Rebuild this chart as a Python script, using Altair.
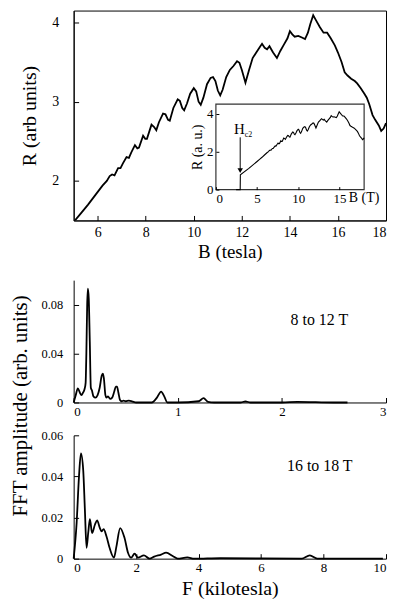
import altair as alt
import pandas as pd

# ---------------- data ----------------
# main panel: R (arb units) vs B (tesla)
main_B = [5.0, 5.3, 5.6, 5.9, 6.2, 6.38, 6.5, 6.6, 6.7, 6.85, 6.95, 7.05, 7.2, 7.3, 7.4,
          7.55, 7.65, 7.72, 7.89, 7.98, 8.05, 8.24, 8.35, 8.44, 8.55, 8.72, 8.82, 8.93,
          9.0, 9.15, 9.33, 9.42, 9.52, 9.6, 9.72, 9.85, 10.0, 10.1, 10.2, 10.29, 10.4,
          10.55, 10.7, 10.8, 10.9, 11.0, 11.1, 11.2, 11.35, 11.5, 11.65, 11.8, 11.9,
          12.0, 12.15, 12.3, 12.45, 12.6, 12.75, 12.84, 12.95, 13.05, 13.15, 13.3, 13.46,
          13.6, 13.75, 13.9, 14.0, 14.1, 14.2, 14.35, 14.5, 14.63, 14.75, 14.85, 14.97,
          15.1, 15.25, 15.4, 15.55, 15.7, 15.87, 16.0, 16.15, 16.28, 16.4, 16.55, 16.7,
          16.8, 16.95, 17.1, 17.2, 17.3, 17.44, 17.55, 17.7, 17.8, 17.9, 18.0]
main_R = [1.48, 1.59, 1.70, 1.82, 1.94, 2.00, 2.06, 2.08, 2.07, 2.16, 2.16, 2.22, 2.30, 2.29, 2.36,
          2.45, 2.41, 2.42, 2.57, 2.53, 2.53, 2.71, 2.68, 2.64, 2.74, 2.85, 2.84, 2.77,
          2.76, 2.92, 3.03, 3.01, 2.92, 2.89, 2.98, 3.10, 3.17, 3.13, 3.00, 2.96, 3.05,
          3.22, 3.30, 3.31, 3.26, 3.14, 3.08, 3.15, 3.31, 3.40, 3.45, 3.51, 3.49,
          3.40, 3.24, 3.40, 3.55, 3.62, 3.69, 3.73, 3.68, 3.66, 3.70, 3.62, 3.55,
          3.64, 3.72, 3.80, 3.89, 3.85, 3.82, 3.83, 3.81, 3.79, 3.87, 3.98, 4.09,
          4.02, 3.94, 3.87, 3.87, 3.80, 3.71, 3.62, 3.50, 3.37, 3.33, 3.29, 3.26,
          3.23, 3.17, 3.10, 3.05, 2.97, 2.83, 2.77, 2.70, 2.63, 2.66, 2.73]

# inset: low-field part (superconducting below Hc2), then the same curve as above
low_B = [2.45, 2.95, 2.97, 4.0]
low_R = [0.0, 0.0, 0.78, 1.12]

# FFT 8 to 12 T
fft1_F = [0.0, 0.02, 0.04, 0.06, 0.075, 0.09, 0.105, 0.115, 0.122, 0.13, 0.137, 0.145, 0.155,
          0.165, 0.175, 0.19, 0.21, 0.23, 0.25, 0.27, 0.28, 0.29, 0.305, 0.315, 0.33, 0.35,
          0.37, 0.39, 0.405, 0.416, 0.43, 0.445, 0.46, 0.48, 0.5, 0.53, 0.56, 0.6, 0.75,
          0.8, 0.84, 0.87, 0.9, 1.0, 1.2, 1.248, 1.29, 1.35, 1.6, 1.65, 1.7, 2.0, 2.15, 2.5, 2.63]
fft1_A = [0.0, 0.006, 0.0115, 0.008, 0.006, 0.008, 0.011, 0.016, 0.04, 0.08, 0.093, 0.085, 0.05,
          0.012, 0.010, 0.005, 0.004, 0.006, 0.012, 0.022, 0.0236, 0.02, 0.006, 0.004, 0.005, 0.003,
          0.004, 0.009, 0.013, 0.013, 0.008, 0.002, 0.001, 0.0015, 0.001, 0.0015, 0.001, 0.0, 0.0,
          0.004, 0.0089, 0.005, 0.0, 0.0, 0.001, 0.0035, 0.0005, 0.0, 0.0, 0.0008, 0.0, 0.0, 0.0005, 0.0, 0.0]

# FFT 16 to 18 T
fft2_F = [0.0, 0.095, 0.17, 0.233, 0.307, 0.36, 0.413, 0.466, 0.52, 0.59, 0.68, 0.75, 0.84, 0.89,
          0.96, 1.05, 1.15, 1.29, 1.37, 1.49, 1.63, 1.74, 1.84, 1.95, 2.06, 2.25, 2.43, 2.58,
          2.8, 2.96, 3.17, 3.33, 3.64, 3.86, 4.7, 7.3, 7.56, 7.8, 9.9]
fft2_A = [0.0, 0.0173, 0.0397, 0.0512, 0.0429, 0.0237, 0.0053, 0.0125, 0.0192, 0.0125, 0.0165,
          0.0186, 0.0149, 0.0133, 0.0144, 0.0109, 0.0053, 0.0005, 0.006, 0.0149, 0.010, 0.0029,
          0.0005, 0.0024, 0.0005, 0.0016, 0.0, 0.001, 0.002, 0.0029, 0.0013, 0.0, 0.0006, 0.0,
          0.0003, 0.0, 0.0016, 0.0, 0.0]

top_x_ticks = [6, 8, 10, 12, 14, 16, 18]
top_y_ticks = [2, 3, 4]
inset_x_ticks = [0, 5, 10, 15]
inset_y_ticks = [0, 2, 4]
fft1_x_ticks = [0, 1, 2, 3]
fft1_y_ticks = [0, 0.04, 0.08]
fft2_x_ticks = [0, 2, 4, 6, 8, 10]
fft2_y_ticks = [0, 0.02, 0.04, 0.06]

main_df = pd.DataFrame({"B": main_B, "R": main_R})
inset_df = pd.DataFrame({"B": low_B + main_B, "R": low_R + main_R})
fft1_df = pd.DataFrame({"F": fft1_F, "A": fft1_A})
fft2_df = pd.DataFrame({"F": fft2_F, "A": fft2_A})

FONT = "Liberation Serif"
W = 314
H1 = 211
H2 = 123
H3 = 124
IN_X = [143, 292]
IN_Y = [180, 94]
INWARD = {"expr": "-5"}
INWARD_S = {"expr": "-3"}

# ---------------- top panel ----------------
main_line = alt.Chart(main_df).mark_line(color="black", strokeWidth=1.8, clip=True).encode(
    x=alt.X("B:Q", scale=alt.Scale(domain=[5, 18], nice=False, zero=False),
            axis=alt.Axis(values=top_x_ticks, format="d", title="B (tesla)",
                          labelFont=FONT, titleFont=FONT,
                          labelFontSize=14, titleFontSize=19, tickSize=INWARD,
                          labelPadding=10, titlePadding=3)),
    y=alt.Y("R:Q", scale=alt.Scale(domain=[1.5, 4.15], nice=False, zero=False),
            axis=alt.Axis(values=top_y_ticks, format="d", title="R (arb units)",
                          labelFont=FONT, titleFont=FONT,
                          labelFontSize=14, titleFontSize=20, tickSize=INWARD,
                          labelPadding=20, titlePadding=12)),
)


def isc():
    return (alt.Scale(domain=[0, 18], range=IN_X, nice=False, zero=False),
            alt.Scale(domain=[0, 4.5], range=IN_Y, nice=False, zero=False))


frame_df = pd.DataFrame({"x0": [0], "x1": [18], "y0": [0], "y1": [4.5]})
sx, sy = isc()
inset_frame = alt.Chart(frame_df).mark_rect(filled=False, stroke="#333", strokeWidth=1.2).encode(
    x=alt.X("x0:Q", axis=None, scale=sx), x2="x1:Q",
    y=alt.Y("y0:Q", axis=None, scale=sy), y2="y1:Q",
)
sx, sy = isc()
inset_line = alt.Chart(inset_df).mark_line(color="black", strokeWidth=1.1).encode(
    x=alt.X("B:Q", scale=sx,
            axis=alt.Axis(values=inset_x_ticks, format="d", title=None, orient="bottom",
                          offset=-(H1 - IN_Y[0]), labelFontSize=13, tickSize=INWARD_S,
                          labelFont=FONT, labelPadding=6, domain=False, zindex=1)),
    y=alt.Y("R:Q", scale=sy,
            axis=alt.Axis(values=inset_y_ticks, format="d", title="R (a. u.)", orient="left",
                          offset=-IN_X[0], labelFontSize=13, titleFontSize=14,
                          labelFont=FONT, titleFont=FONT,
                          tickSize=INWARD_S, labelPadding=6, titlePadding=2, domain=False,
                          zindex=1)),
)

ann_df = pd.DataFrame({"B": [2.95], "top": [2.75], "tip": [1.0]})
sx, sy = isc()
arrow = alt.Chart(ann_df).mark_rule(color="black", strokeWidth=1).encode(
    x=alt.X("B:Q", axis=None, scale=sx), y=alt.Y("top:Q", axis=None, scale=sy), y2="tip:Q")
sx, sy = isc()
head = alt.Chart(ann_df).mark_point(shape="triangle-down", filled=True, color="black",
                                    size=30, opacity=1).encode(
    x=alt.X("B:Q", axis=None, scale=sx), y=alt.Y("tip:Q", axis=None, scale=sy))

h_df = pd.DataFrame({"B": [2.85], "R": [3.2], "t": ["H"]})
sx, sy = isc()
h_txt = alt.Chart(h_df).mark_text(font=FONT, color="black", baseline="middle", fontSize=15).encode(
    x=alt.X("B:Q", axis=None, scale=sx), y=alt.Y("R:Q", axis=None, scale=sy), text="t:N")
c2_df = pd.DataFrame({"B": [3.5], "R": [2.85], "t": ["c2"]})
sx, sy = isc()
c2_txt = alt.Chart(c2_df).mark_text(font=FONT, color="black", baseline="middle", align="left",
                                    fontSize=8).encode(
    x=alt.X("B:Q", axis=None, scale=sx), y=alt.Y("R:Q", axis=None, scale=sy), text="t:N")
bt_df = pd.DataFrame({"B": [18.0], "R": [-0.42], "t": ["B (T)"]})
sx, sy = isc()
bt_txt = alt.Chart(bt_df).mark_text(font=FONT, color="black", baseline="middle", fontSize=14).encode(
    x=alt.X("B:Q", axis=None, scale=sx), y=alt.Y("R:Q", axis=None, scale=sy), text="t:N")

top = alt.layer(main_line, inset_frame, inset_line, arrow, head, h_txt, c2_txt, bt_txt).resolve_scale(
    x="independent", y="independent").properties(
    width=W, height=H1, view=alt.ViewBackground(stroke="black", strokeWidth=1))

# ---------------- FFT panels ----------------
fmt = "datum.value == 0 ? '0' : format(datum.value, '.2f')"


def fft_panel(df, xdom, xt, ydom, yt, h, label, lx, ly, ytitle, title_y, xtitle):
    line = alt.Chart(df).mark_line(color="black", strokeWidth=1.8, interpolate="monotone").encode(
        x=alt.X("F:Q", scale=alt.Scale(domain=xdom, nice=False, zero=False),
                axis=alt.Axis(values=xt, format="d", title=xtitle, labelFontSize=13,
                              labelFont=FONT, titleFont=FONT,
                              titleFontSize=20, tickSize=INWARD, labelPadding=8,
                              titlePadding=4)),
        y=alt.Y("A:Q", scale=alt.Scale(domain=ydom, nice=False, zero=False),
                axis=alt.Axis(values=yt, labelExpr=fmt, title=ytitle, labelFontSize=12.5,
                              labelFont=FONT, titleFont=FONT,
                              titleFontSize=21, tickSize=INWARD, labelPadding=16,
                              titlePadding=11, titleY=title_y)),
    )
    tdf = pd.DataFrame({"F": [lx], "A": [ly], "t": [label]})
    txt = alt.Chart(tdf).mark_text(font=FONT, fontSize=16, color="black").encode(
        x="F:Q", y="A:Q", text="t:N")
    return alt.layer(line, txt).properties(width=W, height=h)


p1 = fft_panel(fft1_df, [0, 3], fft1_x_ticks, [0, 0.1], fft1_y_ticks, H2,
               "8 to 12 T", 2.36, 0.067, "", 0, "")
p2 = fft_panel(fft2_df, [0, 10], fft2_x_ticks, [0, 0.06], fft2_y_ticks, H3,
               "16 to 18 T", 7.88, 0.045, "FFT amplitude (arb. units)", -30, "F  (kilotesla)")

bottom = alt.vconcat(p1, p2, spacing=33, bounds="flush")

chart = alt.vconcat(top, bottom, spacing=60, bounds="flush").properties(padding=0).configure(
    font=FONT
).configure_axis(
    labelFont=FONT, titleFont=FONT, labelColor="black", titleColor="black",
    domainColor="black", tickColor="black", grid=False, titleFontWeight="normal",
    domainWidth=1, tickWidth=1
).configure_view(stroke="transparent")

chart.save("out.html", embed_options={"renderer": "svg", "actions": False})
